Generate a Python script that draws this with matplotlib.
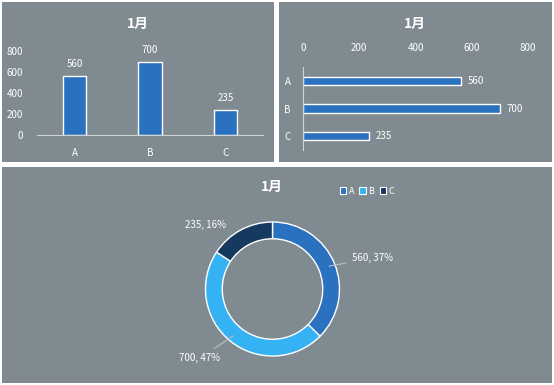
import matplotlib
matplotlib.use("Agg")
import matplotlib.pyplot as plt
from matplotlib.patches import Rectangle, Patch
import numpy as np

plt.rcParams['font.family'] = ['Noto Sans CJK SC', 'DejaVu Sans']

categories = ['A', 'B', 'C']
values = [560, 700, 235]
title = '1月'
yticks = [0, 200, 400, 600, 800]

bar_color = '#2a72bf'
donut_colors = ['#2a72bf', '#35b2f4', '#163a5f']
panel_color = '#808b91'
txt = '#ffffff'
axis_col = '#d0d4d6'

W, H = 554, 385
fig = plt.figure(figsize=(W / 100, H / 100), dpi=100)
fig.patch.set_facecolor('white')

def px_rect(x0, y0, x1, y1):
    return [x0 / W, 1 - y1 / H, (x1 - x0) / W, (y1 - y0) / H]

for (x0, y0, x1, y1) in [(2, 2, 274, 162), (279, 2, 552, 162), (2, 167, 552, 383)]:
    r = px_rect(x0, y0, x1, y1)
    fig.patches.append(Rectangle((r[0], r[1]), r[2], r[3], transform=fig.transFigure,
                                 facecolor=panel_color, edgecolor='none', zorder=-10))

# --- Column chart ---
ax1 = fig.add_axes(px_rect(37, 51, 263, 135))
ax1.set_facecolor('none')
x = np.arange(len(categories))
bars = ax1.bar(x, values, width=0.31, color=bar_color, edgecolor='white', linewidth=1)
ax1.bar_label(bars, labels=[str(v) for v in values], color=txt, fontsize=7, padding=5)
ax1.set_xlim(-0.5, 2.5)
ax1.set_ylim(0, 800)
ax1.set_yticks(yticks)
ax1.set_xticks(x)
ax1.set_xticklabels(categories)
for s in ['top', 'right', 'left']:
    ax1.spines[s].set_visible(False)
ax1.spines['bottom'].set_color(axis_col)
ax1.tick_params(axis='both', length=0, colors=txt, labelsize=7)
ax1.tick_params(axis='x', pad=9)
ax1.tick_params(axis='y', pad=10)
fig.text(138 / W, 1 - 24 / H, title, color=txt, fontsize=10, fontweight='bold',
         ha='center', va='center')

# --- Bar chart ---
ax2 = fig.add_axes(px_rect(303, 67, 528, 150))
ax2.set_facecolor('none')
y = np.arange(len(categories))
hb = ax2.barh(y, values, height=0.3, color=bar_color, edgecolor='white', linewidth=1)
ax2.bar_label(hb, labels=[str(v) for v in values], color=txt, fontsize=7, padding=5)
ax2.set_ylim(2.5, -0.5)
ax2.set_xlim(0, 800)
ax2.set_xticks(yticks)
ax2.set_yticks(y)
ax2.set_yticklabels(categories)
ax2.xaxis.tick_top()
for s in ['top', 'right', 'bottom']:
    ax2.spines[s].set_visible(False)
ax2.spines['left'].set_color(axis_col)
ax2.tick_params(axis='both', length=0, colors=txt, labelsize=7)
ax2.tick_params(axis='x', pad=10)
ax2.tick_params(axis='y', pad=9)
fig.text(415 / W, 1 - 24 / H, title, color=txt, fontsize=10, fontweight='bold',
         ha='center', va='center')

# --- Donut chart ---
ax3 = fig.add_axes(px_rect(205.5, 222, 339.5, 356))
ax3.set_facecolor('none')
wedges, _ = ax3.pie(values, colors=donut_colors, startangle=90, counterclock=False,
                    radius=1, wedgeprops=dict(width=0.25, edgecolor='white', linewidth=1))
ax3.set_xlim(-1, 1)
ax3.set_ylim(-1, 1)
ax3.set_aspect('equal')
total = sum(values)
pcts = [round(v / total * 100) for v in values]
label_pos = [((1.18, 0.46), 'left', True), ((-0.78, -1.03), 'right', True), ((-1.0, 0.95), 'center', False)]
for w, v, p, (pos, ha, line) in zip(wedges, values, pcts, label_pos):
    ang = np.deg2rad((w.theta1 + w.theta2) / 2)
    xy = (0.87 * np.cos(ang), 0.87 * np.sin(ang))
    ax3.annotate(f'{v}, {p}%', xy=xy, xytext=pos, ha=ha, va='center',
                 color=txt, fontsize=7, annotation_clip=False,
                 arrowprops=dict(arrowstyle='-', color='#b8bec2', lw=0.8) if line else None)
fig.text(272 / W, 1 - 187 / H, title, color=txt, fontsize=10, fontweight='bold',
         ha='center', va='center')
handles = [Patch(facecolor=c, edgecolor='white', linewidth=0.8) for c in donut_colors]
leg = fig.legend(handles, categories, loc='center left', bbox_to_anchor=(335 / W, 1 - 191 / H),
                 ncol=3, frameon=False, fontsize=6.5, handlelength=0.7, handleheight=0.7,
                 handletextpad=0.3, columnspacing=0.6, borderpad=0)
for t in leg.get_texts():
    t.set_color(txt)

fig.savefig('out.png', dpi=100, facecolor=fig.get_facecolor())
